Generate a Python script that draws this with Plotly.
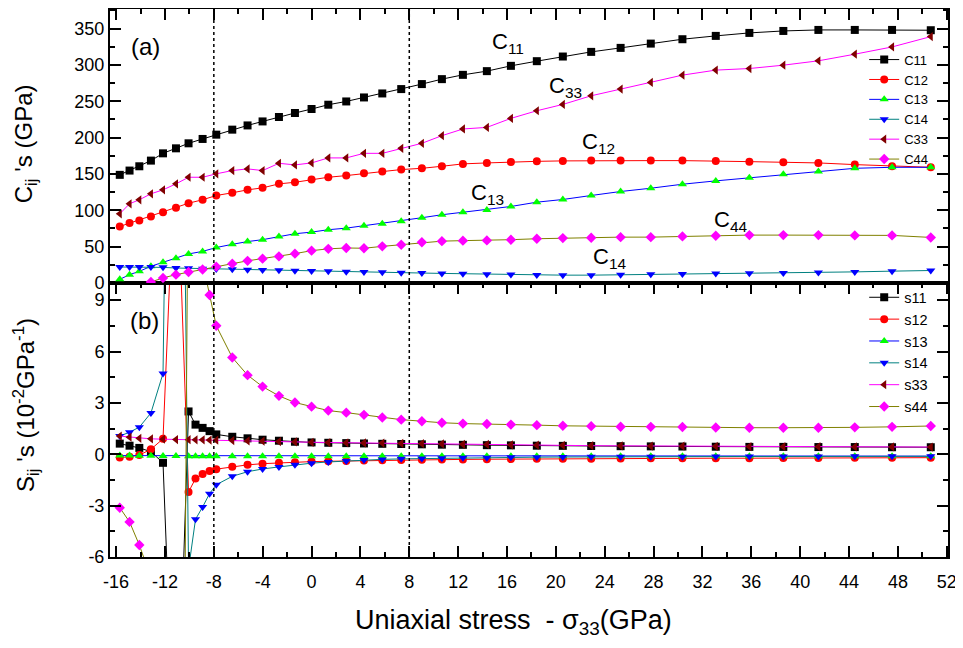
import plotly.graph_objects as go

# ---------------- data ----------------
# stress values (GPa) for panel (a)
x_c = [-15.7, -14.9, -14.1, -13.15, -12.16, -11.1, -10.07, -8.92, -7.8, -6.49,
       -5.24, -4.01, -2.67, -1.36, 0.0, 1.37, 2.84, 4.29, 5.79, 7.34,
       9.03, 10.67, 12.39, 14.35, 16.32, 18.44, 20.57, 22.89, 25.3, 27.77,
       30.36, 33.09, 35.84, 38.62, 41.49, 44.47, 47.52, 50.69]

C11 = [148.8, 154.7, 160.6, 168.4, 178.4, 185.3, 192.2, 198.2, 204.1, 211.0,
       216.8, 222.3, 228.4, 233.9, 239.4, 245.3, 249.8, 255.3, 260.8, 266.8,
       273.7, 280.5, 286.4, 291.5, 298.8, 305.2, 311.6, 318.0, 323.5, 329.4,
       335.4, 340.0, 344.1, 346.8, 348.2, 348.2, 348.2, 347.8]
C12 = [77.8, 82.4, 86.1, 91.5, 97.4, 103.5, 109.8, 114.5, 120.4, 124.1,
       128.2, 130.9, 136.4, 138.6, 142.3, 145.5, 147.8, 151.0, 153.3, 156.1,
       157.8, 160.6, 163.9, 165.2, 166.6, 167.4, 168.0, 168.4, 168.4, 168.4,
       168.4, 168.0, 167.0, 166.1, 165.2, 162.9, 160.6, 159.2]
C13 = [5.0, 11.5, 16.0, 23.0, 28.5, 34.0, 40.0, 43.5, 48.8, 53.2,
       57.0, 59.6, 64.1, 67.8, 70.0, 73.3, 75.5, 78.8, 81.5, 85.1,
       89.8, 93.9, 97.4, 100.5, 105.3, 111.2, 114.9, 120.4, 125.9, 130.4,
       135.9, 140.5, 144.7, 149.6, 153.3, 157.8, 159.2, 159.2]
C14 = [22.0, 22.0, 22.0, 22.0, 21.5, 20.6, 20.2, 19.7, 19.2, 18.8,
       18.4, 17.9, 17.4, 16.9, 16.5, 16.1, 15.5, 15.1, 14.7, 14.2,
       13.7, 13.2, 12.6, 12.0, 11.6, 11.0, 10.8, 10.8, 11.2, 11.9,
       12.3, 12.9, 13.3, 13.7, 14.4, 15.3, 16.3, 17.2]
C33 = [95.2, 109.0, 114.5, 122.7, 128.2, 136.4, 145.5, 145.5, 150.2, 154.7,
       157.0, 154.7, 164.7, 162.5, 165.2, 172.1, 172.1, 178.4, 178.4, 185.3,
       192.2, 202.7, 211.9, 214.1, 226.5, 237.0, 245.7, 257.6, 266.8, 275.9,
       286.0, 292.9, 295.1, 299.7, 305.7, 314.8, 324.8, 339.0]
C44 = [-25.0, -16.0, -8.0, 1.4, 7.0, 11.5, 15.1, 18.6, 22.5, 26.6,
       30.5, 33.5, 36.6, 40.4, 44.5, 47.0, 48.2, 47.8, 50.4, 52.7,
       56.0, 57.6, 58.3, 58.6, 59.6, 60.9, 61.8, 62.3, 63.1, 63.1,
       64.1, 65.0, 65.9, 65.9, 65.9, 65.5, 65.5, 62.7]

# stress values (GPa) for panel (b)
x_s = [-15.7, -14.9, -14.1, -13.15, -12.16, -11.1, -10.07, -9.5, -8.92, -8.35,
       -7.8, -6.49, -5.24, -4.01, -2.67, -1.36, 0.0, 1.37, 2.84, 4.29,
       5.79, 7.34, 9.03, 10.67, 12.39, 14.35, 16.32, 18.44, 20.57, 22.89,
       25.3, 27.77, 30.36, 33.09, 35.84, 38.62, 41.49, 44.47, 47.52, 50.69]

s11 = [0.62, 0.5, 0.37, 0.15, -0.5, -20.0, 2.5, 1.73, 1.54, 1.35,
       1.16, 1.02, 0.93, 0.85, 0.79, 0.73, 0.69, 0.67, 0.65, 0.63,
       0.61, 0.6, 0.58, 0.56, 0.55, 0.53, 0.52, 0.5, 0.49, 0.48,
       0.47, 0.46, 0.45, 0.44, 0.43, 0.43, 0.42, 0.42, 0.41, 0.41]
s12 = [-0.19, -0.15, -0.05, 0.29, 0.9, 19.0, -2.2, -1.42, -1.16, -0.98,
       -0.87, -0.73, -0.62, -0.55, -0.5, -0.46, -0.43, -0.41, -0.39, -0.37,
       -0.35, -0.33, -0.32, -0.31, -0.3, -0.29, -0.28, -0.27, -0.26, -0.26,
       -0.25, -0.24, -0.24, -0.23, -0.23, -0.22, -0.22, -0.21, -0.21, -0.2]
s13 = [-0.08, -0.08, -0.09, -0.09, -0.1, -0.1, -0.11, -0.11, -0.11, -0.11,
       -0.11, -0.11, -0.11, -0.11, -0.11, -0.11, -0.11, -0.11, -0.11, -0.11,
       -0.11, -0.11, -0.11, -0.11, -0.11, -0.11, -0.11, -0.11, -0.11, -0.11,
       -0.11, -0.11, -0.11, -0.11, -0.11, -0.11, -0.11, -0.11, -0.11, -0.11]
s14 = [1.06, 1.29, 1.58, 2.41, 4.72, 60.0, -6.7, -3.8, -3.08, -2.3,
       -1.78, -1.29, -1.02, -0.86, -0.74, -0.62, -0.52, -0.45, -0.39, -0.34,
       -0.3, -0.27, -0.25, -0.23, -0.21, -0.2, -0.18, -0.17, -0.16, -0.15,
       -0.15, -0.14, -0.14, -0.13, -0.13, -0.13, -0.13, -0.12, -0.12, -0.12]
s33 = [1.06, 1.0, 0.93, 0.9, 0.88, 0.86, 0.85, 0.84, 0.84, 0.83,
       0.82, 0.8, 0.78, 0.76, 0.74, 0.72, 0.7, 0.68, 0.67, 0.66,
       0.65, 0.63, 0.62, 0.6, 0.58, 0.57, 0.55, 0.53, 0.52, 0.5,
       0.49, 0.48, 0.47, 0.46, 0.45, 0.44, 0.44, 0.43, 0.43, 0.42]
s44 = [-3.12, -3.95, -5.3, -7.2, -14.0, -80.0, 20.0, 15.0, 11.2, 9.3,
       7.5, 5.65, 4.62, 3.95, 3.41, 3.02, 2.78, 2.55, 2.43, 2.3,
       2.15, 2.02, 1.93, 1.84, 1.79, 1.77, 1.73, 1.7, 1.66, 1.64,
       1.61, 1.6, 1.59, 1.56, 1.55, 1.55, 1.55, 1.57, 1.6, 1.65]

x_ticks = list(range(-16, 53, 4))
x_ticktext = [str(v) for v in x_ticks]
yc_ticks = [0, 50, 100, 150, 200, 250, 300, 350]
ys_ticks = [-6, -3, 0, 3, 6, 9]
ys_ticktext = [str(v) for v in ys_ticks]
guide_x = [-8, 8]

# ---------------- styles ----------------
FONT = "Liberation Sans, Arial, sans-serif"
styles = [  # name suffix, marker symbol, marker colour, line colour
    ("11", "square", "#000000", "#000000"),
    ("12", "circle", "#ff0000", "#ff0000"),
    ("13", "triangle-up", "#00ff00", "#0000ff"),
    ("14", "triangle-down", "#0000ff", "#008080"),
    ("33", "triangle-left", "#800000", "#ff00ff"),
    ("44", "diamond", "#ff00ff", "#808000"),
]
C_data = [C11, C12, C13, C14, C33, C44]
S_data = [s11, s12, s13, s14, s33, s44]

fig = go.Figure()
for (suf, sym, mc, lc), yv in zip(styles, C_data):
    fig.add_trace(go.Scatter(
        x=x_c, y=yv, name="C" + suf, mode="lines+markers",
        xaxis="x2", yaxis="y", legend="legend",
        line=dict(color=lc, width=1),
        marker=dict(symbol=sym, color=mc, size=8, line=dict(width=0)),
    ))
for (suf, sym, mc, lc), yv in zip(styles, S_data):
    fig.add_trace(go.Scatter(
        x=x_s, y=yv, name="s" + suf, mode="lines+markers",
        xaxis="x", yaxis="y2", legend="legend2",
        line=dict(color=lc, width=1),
        marker=dict(symbol=sym, color=mc, size=8, line=dict(width=0)),
    ))

# dotted guide lines
for gx in guide_x:
    fig.add_shape(type="line", xref="x", yref="paper", x0=gx, x1=gx, y0=0, y1=1,
                  line=dict(color="black", width=1.5, dash="dot"), layer="above")

axis_common = dict(
    showline=True, linecolor="black", linewidth=2, mirror="ticks",
    ticks="inside", ticklen=11, tickwidth=2, tickcolor="black",
    showgrid=False, zeroline=False,
    tickfont=dict(family=FONT, size=18, color="black"),
)

fig.update_layout(
    width=955, height=640,
    margin=dict(l=102, r=15, t=1, b=91),
    paper_bgcolor="white", plot_bgcolor="white",
    font=dict(family=FONT, color="black"),
    xaxis=dict(**axis_common, domain=[0, 1], anchor="y2", range=[-16.5, 52.1],
               tickvals=x_ticks, ticktext=x_ticktext, ticklabelstandoff=7,
               minor=dict(ticks="inside", dtick=2, tick0=0, ticklen=5, tickwidth=2, tickcolor="black")),
    xaxis2=dict(showline=True, linecolor="black", linewidth=2, mirror=True,
                ticks="inside", ticklen=11, tickwidth=2, tickcolor="black",
                showgrid=False, zeroline=False, side="top",
                domain=[0, 1], anchor="y", matches="x", range=[-16.5, 52.1],
                tickvals=x_ticks, showticklabels=False,
                minor=dict(ticks="inside", dtick=2, tick0=0, ticklen=5, tickwidth=2, tickcolor="black")),
    yaxis=dict(**axis_common, domain=[0.5, 1], anchor="x2", range=[0, 377],
               tickvals=yc_ticks, ticklabelstandoff=0,
               minor=dict(ticks="inside", dtick=25, ticklen=5, tickwidth=2, tickcolor="black")),
    yaxis2=dict(**axis_common, domain=[0, 0.5], anchor="x", range=[-6, 10],
                tickvals=ys_ticks, ticktext=ys_ticktext, ticklabelstandoff=0,
                minor=dict(ticks="inside", dtick=1.5, tick0=0, ticklen=5, tickwidth=2, tickcolor="black")),
    legend=dict(x=0.9, y=0.935, xanchor="left", yanchor="top",
                bgcolor="rgba(0,0,0,0)", borderwidth=0,
                font=dict(family=FONT, size=13, color="black"), tracegroupgap=0),
    legend2=dict(x=0.9, y=0.503, xanchor="left", yanchor="top",
                 bgcolor="rgba(0,0,0,0)", borderwidth=0,
                 font=dict(family=FONT, size=14.5, color="black"), tracegroupgap=0),
    showlegend=True,
)

ann = []
def label(text, x, y, xref="x", yref="y", size=22, angle=0):
    ann.append(dict(text=text, x=x, y=y, xref=xref, yref=yref, showarrow=False,
                    textangle=angle, font=dict(family=FONT, size=size, color="black"),
                    xanchor="center", yanchor="middle"))

label("(a)", -13.6, 325, size=24)
label("C<sub>11</sub>", 16.1, 330)
label("C<sub>33</sub>", 20.8, 270)
label("C<sub>12</sub>", 23.5, 192)
label("C<sub>13</sub>", 14.4, 123)
label("C<sub>44</sub>", 34.3, 86)
label("C<sub>14</sub>", 24.4, 35)
label("(b)", -13.7, 7.8, xref="x", yref="y2", size=24)

label("C<sub>ij</sub> 's (GPa)", -0.1005, 0.7546, xref="paper", yref="paper", size=24, angle=-90)
label("S<sub>ij</sub> 's (10<sup>-2</sup>GPa<sup>-1</sup>)", -0.1005, 0.277,
      xref="paper", yref="paper", size=24, angle=-90)
label("Uniaxial stress  - σ<sub>33</sub>(GPa)", 0.482, -0.1186,
      xref="paper", yref="paper", size=27)

fig.update_layout(annotations=ann)
fig.write_html("out.html")
